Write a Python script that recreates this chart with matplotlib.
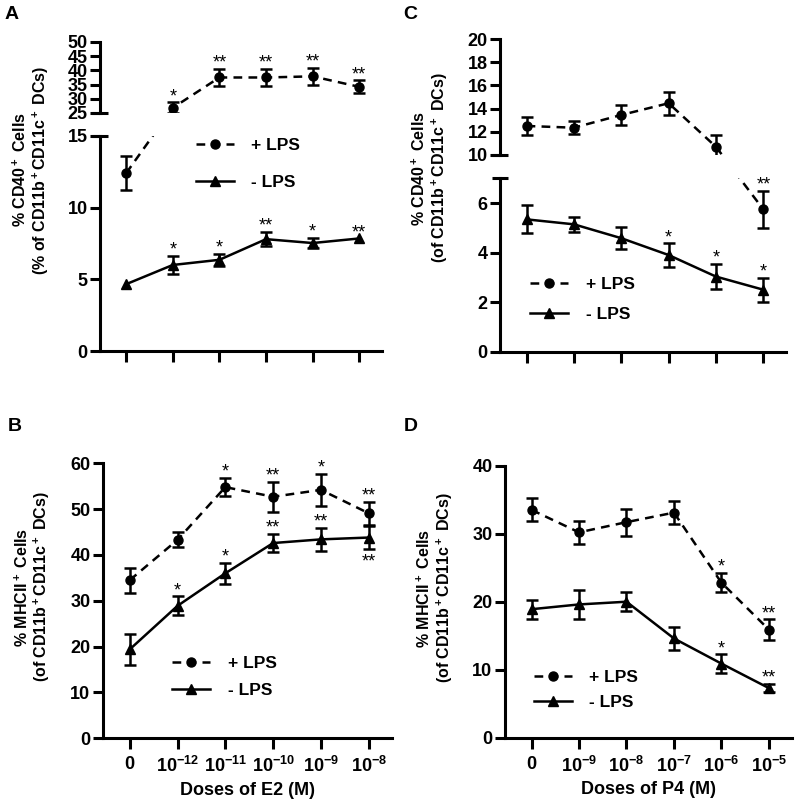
import numpy as np
import matplotlib
matplotlib.use("Agg")
import matplotlib.pyplot as plt

plt.rcParams['font.family'] = ['Liberation Sans', 'DejaVu Sans']
plt.rcParams['font.weight'] = 'bold'
plt.rcParams['axes.labelweight'] = 'bold'
plt.rcParams['mathtext.fontset'] = 'custom'
plt.rcParams['mathtext.rm'] = 'Liberation Sans:bold'
plt.rcParams['mathtext.bf'] = 'Liberation Sans:bold'
plt.rcParams['mathtext.it'] = 'Liberation Sans:bold'
plt.rcParams['mathtext.default'] = 'bf'

# ---- data ----
doses_e2 = ['0', '10$^{-12}$', '10$^{-11}$', '10$^{-10}$', '10$^{-9}$', '10$^{-8}$']
doses_p4 = ['0', '10$^{-9}$', '10$^{-8}$', '10$^{-7}$', '10$^{-6}$', '10$^{-5}$']

# A: CD40, E2
cd40_e2_lps = [12.4, 26.8, 37.5, 37.5, 37.9, 34.2]
cd40_e2_lps_err = [1.2, 1.9, 3.0, 3.0, 3.0, 2.3]
cd40_e2_lps_stars = ['', '*', '**', '**', '**', '**']
cd40_e2_nolps = [4.66, 6.0, 6.36, 7.8, 7.53, 7.85]
cd40_e2_nolps_err = [0, 0.65, 0.43, 0.5, 0.38, 0]
cd40_e2_nolps_stars = ['', '*', '*', '**', '*', '**']

# B: MHCII, E2
mhc_e2_lps = [34.5, 43.3, 54.8, 52.7, 54.2, 49.1]
mhc_e2_lps_err = [2.7, 1.6, 2.0, 3.3, 3.5, 2.5]
mhc_e2_lps_stars = ['', '', '*', '**', '*', '**']
mhc_e2_nolps = [19.4, 28.9, 36.0, 42.6, 43.4, 43.8]
mhc_e2_nolps_err = [3.3, 2.1, 2.3, 2.0, 2.5, 2.5]
mhc_e2_nolps_stars = ['', '*', '*', '**', '**', '**']

# C: CD40, P4
cd40_p4_lps = [12.5, 12.35, 13.45, 14.46, 10.7, 5.74]
cd40_p4_lps_err = [0.75, 0.55, 0.9, 1.0, 1.0, 0.75]
cd40_p4_lps_stars = ['', '', '', '', '', '**']
cd40_p4_nolps = [5.34, 5.14, 4.58, 3.9, 3.03, 2.5]
cd40_p4_nolps_err = [0.56, 0.3, 0.45, 0.47, 0.5, 0.48]
cd40_p4_nolps_stars = ['', '', '', '*', '*', '*']

# D: MHCII, P4
mhc_p4_lps = [33.5, 30.2, 31.7, 33.1, 22.8, 15.9]
mhc_p4_lps_err = [1.7, 1.65, 2.0, 1.65, 1.4, 1.5]
mhc_p4_lps_stars = ['', '', '', '', '*', '**']
mhc_p4_nolps = [18.9, 19.6, 20.0, 14.6, 10.9, 7.3]
mhc_p4_nolps_err = [1.4, 2.1, 1.4, 1.7, 1.35, 0.6]
mhc_p4_nolps_stars = ['', '', '', '', '*', '**']

LW = 2.2


def break_scale(lo, hi, gap, factor):
    def fwd(v):
        v = np.asarray(v, dtype=float)
        return np.where(v <= lo, v,
                        np.where(v >= hi, lo + gap + (v - hi) * factor,
                                 lo + (v - lo) * gap / (hi - lo)))

    def inv(d):
        d = np.asarray(d, dtype=float)
        return np.where(d <= lo, d,
                        np.where(d >= lo + gap, hi + (d - lo - gap) / factor,
                                 lo + (d - lo) * (hi - lo) / gap))
    return fwd, inv


def series(ax, y, err, stars, style, below=()):
    x = np.arange(len(y))
    y = np.asarray(y)
    err = np.asarray(err)
    if style == 'lps':
        ax.plot(x, y, color='k', lw=1.8, ls=(0, (3.5, 2.5)), marker='o', ms=6.5,
                label='+ LPS', zorder=2)
    else:
        ax.plot(x, y, color='k', lw=1.8, ls='-', marker='^', ms=6.5,
                label='- LPS', zorder=2)
    m = err > 0
    ax.errorbar(x[m], y[m], yerr=err[m], fmt='none', ecolor='k', elinewidth=1.8,
                capsize=4.5, capthick=1.8, zorder=2)
    for i, s in enumerate(stars):
        if not s:
            continue
        if i in below:
            ax.annotate(s, (x[i], y[i] - err[i]), xytext=(0, -3), textcoords='offset points',
                        ha='center', va='top', fontsize=13, fontweight='normal', zorder=5)
        else:
            ax.annotate(s, (x[i], y[i] + err[i]), xytext=(0, -2), textcoords='offset points',
                        ha='center', va='bottom', fontsize=13, fontweight='normal', zorder=5)


def style_axes(ax, labels, xlabel, ylabel, label_y):
    ax.spines['top'].set_visible(False)
    ax.spines['right'].set_visible(False)
    ax.spines['bottom'].set_linewidth(LW)
    ax.set_xlim(-0.56, 5.48)
    ax.set_xticks(range(len(labels)))
    ax.set_xticklabels(labels if xlabel else [])
    ax.tick_params(axis='x', length=8, width=LW, labelsize=13, pad=5)
    ax.tick_params(axis='y', length=7, width=LW, labelsize=13, pad=2)
    if xlabel:
        ax.set_xlabel(xlabel, fontsize=13, labelpad=4)
    ax.set_ylabel(ylabel, fontsize=11.5, linespacing=1.1)
    ax.yaxis.set_label_coords(-0.175, label_y)


def legend(ax, x, y, spacing):
    ax.legend(loc='upper left', bbox_to_anchor=(x, y), frameon=False, fontsize=12.5,
              handlelength=2.2, handletextpad=1.0, labelspacing=spacing,
              borderpad=0, borderaxespad=0)


def broken_axis(ax, lo, hi, top, gap, factor):
    fwd, inv = break_scale(lo, hi, gap, factor)
    ax.set_yscale('function', functions=(fwd, inv))
    ax.set_ylim(0, top)
    ax.spines['left'].set_visible(False)
    tr = ax.get_yaxis_transform()
    ax.plot([0, 0], [0, lo], color='k', lw=LW, transform=tr, clip_on=False,
            solid_capstyle='projecting', zorder=6)
    ax.plot([0, 0], [hi, top], color='k', lw=LW, transform=tr, clip_on=False,
            solid_capstyle='projecting', zorder=6)
    ax.plot([0, 0], [lo, hi], color='k', ls='none', marker='_', ms=11, mew=LW,
            transform=tr, clip_on=False, zorder=6)
    ax.axhspan(lo, hi, color='white', zorder=2.5, lw=0)


fig = plt.figure(figsize=(7.97, 8.06), dpi=100)

# ---- A ----
axA = fig.add_axes([0.1255, 0.5645, 0.3534, 0.3834])
series(axA, cd40_e2_lps, cd40_e2_lps_err, cd40_e2_lps_stars, 'lps')
series(axA, cd40_e2_nolps, cd40_e2_nolps_err, cd40_e2_nolps_stars, 'nolps')
broken_axis(axA, 15, 25, 50, 1.6, 0.198)
axA.set_yticks([0, 5, 10, 15, 25, 30, 35, 40, 45, 50])
style_axes(axA, doses_e2, None, '% CD40$^+$ Cells\n(% of CD11b$^+$CD11c$^+$ DCs)', 0.586)
legend(axA, 0.34, 0.69, 1.25)

# ---- C ----
axC = fig.add_axes([0.6274, 0.5637, 0.3589, 0.3879])
series(axC, cd40_p4_lps, cd40_p4_lps_err, cd40_p4_lps_stars, 'lps')
series(axC, cd40_p4_nolps, cd40_p4_nolps_err, cd40_p4_nolps_stars, 'nolps')
broken_axis(axC, 7, 10, 20, 0.94, 0.468)
axC.set_yticks([0, 2, 4, 6, 10, 12, 14, 16, 18, 20])
style_axes(axC, doses_p4, None, '% CD40$^+$ Cells\n(of CD11b$^+$CD11c$^+$ DCs)', 0.587)
legend(axC, 0.105, 0.24, 0.85)

# ---- B ----
axB = fig.add_axes([0.1292, 0.0840, 0.3622, 0.3412])
series(axB, mhc_e2_lps, mhc_e2_lps_err, mhc_e2_lps_stars, 'lps')
series(axB, mhc_e2_nolps, mhc_e2_nolps_err, mhc_e2_nolps_stars, 'nolps', below=(5,))
axB.set_ylim(0, 60)
axB.set_yticks([0, 10, 20, 30, 40, 50, 60])
axB.spines['left'].set_linewidth(LW)
style_axes(axB, doses_e2, 'Doses of E2 (M)', '% MHCII$^+$ Cells\n(of CD11b$^+$CD11c$^+$ DCs)', 0.55)
legend(axB, 0.24, 0.30, 0.7)

# ---- D ----
axD = fig.add_axes([0.6336, 0.0847, 0.3597, 0.3375])
series(axD, mhc_p4_lps, mhc_p4_lps_err, mhc_p4_lps_stars, 'lps')
series(axD, mhc_p4_nolps, mhc_p4_nolps_err, mhc_p4_nolps_stars, 'nolps')
axD.set_ylim(0, 40)
axD.set_yticks([0, 10, 20, 30, 40])
axD.spines['left'].set_linewidth(LW)
style_axes(axD, doses_p4, 'Doses of P4 (M)', '% MHCII$^+$ Cells\n(of CD11b$^+$CD11c$^+$ DCs)', 0.55)
legend(axD, 0.10, 0.25, 0.55)

# panel letters
for letter, x, y in [('A', 0.006, 0.992), ('C', 0.506, 0.992),
                     ('B', 0.010, 0.481), ('D', 0.506, 0.481)]:
    fig.text(x, y, letter, fontsize=14, fontweight='bold', va='top', ha='left')

fig.savefig('out.png', dpi=100, facecolor='white')
